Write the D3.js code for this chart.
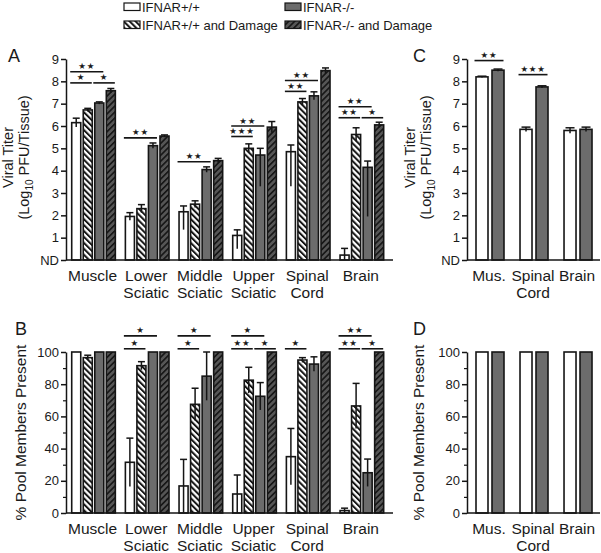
<!DOCTYPE html>
<html><head><meta charset="utf-8">
<script src="https://cdn.jsdelivr.net/npm/d3@7"></script>
<style>
body{margin:0;background:#fff}
svg{display:block}
text{font-family:"Liberation Sans",Arial,sans-serif;fill:#1a1a1a}
</style>
</head><body>
<svg id="chart" width="601" height="553"></svg>
<script>
// ---------- DATA ----------
const seriesNames = ["IFNAR+/+", "IFNAR+/+ and Damage", "IFNAR-/-", "IFNAR-/- and Damage"];
const tissuesAB = [["Muscle"], ["Lower", "Sciatic"], ["Middle", "Sciatic"], ["Upper", "Sciatic"], ["Spinal", "Cord"], ["Brain"]];
const tissuesCD = [["Mus."], ["Spinal", "Cord"], ["Brain"]];

const titerTicks = [0, 1, 2, 3, 4, 5, 6, 7, 8, 9];
const poolTicks = [0, 20, 40, 60, 80, 100];
const poolMinorTicks = [10, 30, 50, 70, 90];

// Panel A: viral titer (log10 PFU/tissue)
const titerWT      = [6.15, 1.95, 2.16, 1.10, 4.85, 0.22];
const titerWTUp    = [0.20, 0.17, 0.26, 0.25, 0.30, 0.30];
const titerWTDn    = [0.20, 0.17, 0.80, 0.60, 1.55, 0.22];
const titerWTDmg   = [6.72, 2.30, 2.50, 5.00, 7.08, 5.62];
const titerWTDmgE  = [0.07, 0.18, 0.15, 0.20, 0.15, 0.30];
const titerKO      = [7.03, 5.12, 4.05, 4.70, 7.35, 4.15];
const titerKOUp    = [0.05, 0.12, 0.12, 0.30, 0.18, 0.28];
const titerKODn    = [0.05, 0.12, 0.12, 1.40, 0.18, 2.20];
const titerKODmg   = [7.58, 5.55, 4.45, 5.95, 8.48, 6.05];
const titerKODmgE  = [0.10, 0.05, 0.10, 0.25, 0.12, 0.12];

// Panel B: % pool members present
const poolWT      = [100, 31.5, 16.8, 11.8, 35, 1.5];
const poolWTE     = [0, 15, 16.5, 11.8, 17.5, 1.5];
const poolWTDmg   = [96.5, 91.5, 67.5, 82.5, 95, 66.5];
const poolWTDmgE  = [1.5, 2.5, 10, 8, 1.5, 14];
const poolKO      = [100, 100, 85, 72.5, 92.5, 25];
const poolKOE     = [0, 0, 15, 8.5, 4.5, 8.5];
const poolKODmg   = [100, 100, 100, 100, 100, 100];
const poolKODmgE  = [0, 0, 0, 0, 0, 0];

// Panel C: viral titer, no damage
const titerCWT  = [8.20, 5.85, 5.80];
const titerCWTE = [0.03, 0.10, 0.12];
const titerCKO  = [8.50, 7.75, 5.85];
const titerCKOE = [0.05, 0.05, 0.10];

// Panel D: % pool members present, no damage
const poolDWT = [100, 100, 100];
const poolDKO = [100, 100, 100];
const zeros3 = [0, 0, 0];

// Significance: [group, fromBar, toBar, level, label]
const sigA = [[0,0,2,8.43,"★★"],[0,0,1,7.93,"★"],[0,2,3,7.93,"★"],[1,0,2,5.47,"★★"],[2,0,2,4.40,"★★"],
  [3,0,2,6.00,"★★"],[3,0,1,5.53,"★★★"],[4,0,2,8.04,"★★"],[4,0,1,7.55,"★★"],[5,0,2,6.86,"★★"],[5,0,1,6.37,"★★"],[5,2,3,6.37,"★"]];
const sigB = [[1,0,2,110,"★"],[1,0,1,102,"★"],[2,0,2,110,"★"],[2,0,1,102,"★"],[3,0,2,110,"★"],[3,0,1,102,"★★"],
  [3,2,3,102,"★"],[4,0,1,102,"★"],[5,0,2,110,"★★"],[5,0,1,102,"★★"],[5,2,3,102,"★"]];
const sigC = [[0,0,1,8.93,"★★"],[1,0,1,8.30,"★★★"]];

// ---------- DRAWING ----------
const svg = d3.select("#chart");
const INK = "#151515";
const GRAY = "#6c6c6c";
const defs = svg.append("defs");
function hatch(id, angle, bg, stripe, w) {
  const p = defs.append("pattern").attr("id", id).attr("patternUnits", "userSpaceOnUse")
    .attr("width", 4.2).attr("height", 4.2).attr("patternTransform", `rotate(${angle})`);
  p.append("rect").attr("width", 4.2).attr("height", 4.2).attr("fill", bg);
  p.append("rect").attr("width", w).attr("height", 4.2).attr("fill", stripe);
}
hatch("hw", -45, "#ffffff", INK, 2.0);
hatch("hd", 45, "#565656", INK, 1.6);
const fills = ["#ffffff", "url(#hw)", GRAY, "url(#hd)"];

function panel(c) {
  const g = svg.append("g");
  const y = d3.scaleLinear().domain([0, c.max]).range([c.yBot, c.yTop]);
  const x = d3.scaleBand().domain(d3.range(c.labels.length)).range([c.x0, c.x1])
    .paddingInner(c.pIn).paddingOuter(c.pOut).align(c.align);
  const xi = d3.scaleBand().domain(d3.range(c.series.length)).range([0, x.bandwidth()]).paddingInner(c.barPad);

  // bars
  c.series.forEach((s, si) => {
    const gg = g.append("g");
    gg.selectAll("rect").data(s.vals).join("rect")
      .attr("x", (d, i) => x(i) + xi(si))
      .attr("y", d => y(d))
      .attr("width", xi.bandwidth())
      .attr("height", d => y(0) - y(d))
      .attr("fill", s.fill).attr("stroke", INK).attr("stroke-width", 1.6);
    // error bars
    s.vals.forEach((v, i) => {
      const up = s.up[i], dn = s.dn[i];
      if (!up && !dn) return;
      const cx = x(i) + xi(si) + xi.bandwidth() / 2;
      gg.append("line").attr("x1", cx).attr("x2", cx).attr("y1", y(v + up)).attr("y2", y(Math.max(0, v - dn)))
        .attr("stroke", INK).attr("stroke-width", 1.5);
      gg.append("line").attr("x1", cx - c.cap / 2).attr("x2", cx + c.cap / 2).attr("y1", y(v + up)).attr("y2", y(v + up))
        .attr("stroke", INK).attr("stroke-width", 1.5);
    });
  });

  // axes
  const ax = g.append("g").attr("transform", `translate(${c.x0},0)`)
    .call(d3.axisLeft(y).tickValues(c.ticks).tickSize(5).tickSizeOuter(0).tickPadding(2)
      .tickFormat(d => (c.nd && d === 0) ? "ND" : d));
  ax.selectAll("path,line").attr("stroke", INK).attr("stroke-width", 1.5);
  ax.selectAll("text").attr("font-size", 13).attr("font-family", '"Liberation Sans",Arial,sans-serif').attr("fill", "#1a1a1a");
  if (c.minor) {
    const mx = g.append("g").attr("transform", `translate(${c.x0},0)`)
      .call(d3.axisLeft(y).tickValues(c.minor).tickSize(3).tickSizeOuter(0).tickFormat(""));
    mx.select("path").remove();
    mx.selectAll("line").attr("stroke", INK).attr("stroke-width", 1.2);
  }
  g.append("line").attr("x1", c.x0).attr("x2", c.x1).attr("y1", y(0)).attr("y2", y(0))
    .attr("stroke", INK).attr("stroke-width", 1.6);

  // x labels
  c.labels.forEach((lines, i) => {
    const cx = x(i) + x.bandwidth() / 2 - 1;
    const t = g.append("text").attr("text-anchor", "middle").attr("font-size", 15.5)
      .attr("x", cx).attr("y", y(0) + 20.5);
    lines.forEach((l, k) => t.append("tspan").attr("x", cx).attr("dy", k ? 17.5 : 0).text(l));
  });

  // significance
  (c.sig || []).forEach(([gi, a, b, lv, lab]) => {
    const xa = x(gi) + xi(a) - 1.5, xb = x(gi) + xi(b) + xi.bandwidth() - 0.5;
    g.append("line").attr("x1", xa).attr("x2", xb).attr("y1", y(lv)).attr("y2", y(lv))
      .attr("stroke", INK).attr("stroke-width", 1.6);
    g.append("text").attr("x", (xa + xb) / 2).attr("y", y(lv) - 2.5).attr("text-anchor", "middle")
      .attr("font-size", 8.5).attr("letter-spacing", 0.8).style("font-family", '"DejaVu Sans",sans-serif').text(lab);
  });

  // y title
  const yc = (c.yTop + c.yBot) / 2 + (c.titleDy || 0);
  c.title.forEach((line, k) => {
    const t = g.append("text").attr("transform", `translate(${c.titleX[k]},${yc}) rotate(-90)`)
      .attr("text-anchor", "middle").attr("font-size", c.titleSize);
    line.forEach(part => {
      const ts = t.append("tspan").text(part.t);
      if (part.sub) ts.attr("font-size", 10).attr("dy", 4);
      if (part.after) ts.attr("dy", -4);
    });
  });
  g.append("text").attr("x", c.letter[0]).attr("y", c.letter[1]).attr("font-size", 18).text(c.letter[2]);
}

const titerTitle = [[{t: "Viral Titer"}], [{t: "(Log"}, {t: "10", sub: true}, {t: " PFU/Tissue)", after: true}]];
const poolTitle = [[{t: "% Pool Members Present"}]];

const abLayout = {x0: 66, x1: 393, pIn: 0.187, pOut: 0.14, align: 0.38, barPad: 0.217, cap: 7};
const cdLayout = {x0: 467, x1: 600, pIn: 0.364, pOut: 0.193, align: 0.53, barPad: 0.25, cap: 9};

panel(Object.assign({}, abLayout, {
  max: 9, yTop: 59, yBot: 260, ticks: titerTicks, nd: true, labels: tissuesAB, sig: sigA,
  title: titerTitle, titleX: [13, 29], titleSize: 14.5, titleDy: -2, letter: [8, 62, "A"],
  series: [
    {vals: titerWT, up: titerWTUp, dn: titerWTDn, fill: fills[0]},
    {vals: titerWTDmg, up: titerWTDmgE, dn: titerWTDmgE, fill: fills[1]},
    {vals: titerKO, up: titerKOUp, dn: titerKODn, fill: fills[2]},
    {vals: titerKODmg, up: titerKODmgE, dn: titerKODmgE, fill: fills[3]}]
}));
panel(Object.assign({}, abLayout, {
  max: 100, yTop: 352, yBot: 513, ticks: poolTicks, minor: poolMinorTicks, labels: tissuesAB, sig: sigB,
  title: poolTitle, titleX: [26], titleSize: 15.5, titleDy: 0, letter: [15, 335, "B"],
  series: [
    {vals: poolWT, up: poolWTE, dn: poolWTE, fill: fills[0]},
    {vals: poolWTDmg, up: poolWTDmgE, dn: poolWTDmgE, fill: fills[1]},
    {vals: poolKO, up: poolKOE, dn: poolKOE, fill: fills[2]},
    {vals: poolKODmg, up: poolKODmgE, dn: poolKODmgE, fill: fills[3]}]
}));
panel(Object.assign({}, cdLayout, {
  max: 9, yTop: 59, yBot: 260, ticks: titerTicks, nd: true, labels: tissuesCD, sig: sigC,
  title: titerTitle, titleX: [415, 431], titleSize: 14.5, titleDy: -2, letter: [413, 62, "C"],
  series: [
    {vals: titerCWT, up: titerCWTE, dn: titerCWTE, fill: fills[0]},
    {vals: titerCKO, up: titerCKOE, dn: titerCKOE, fill: fills[2]}]
}));
panel(Object.assign({}, cdLayout, {
  max: 100, yTop: 352, yBot: 513, ticks: poolTicks, minor: poolMinorTicks, labels: tissuesCD,
  title: poolTitle, titleX: [424], titleSize: 15.5, titleDy: 0, letter: [413, 335, "D"],
  series: [
    {vals: poolDWT, up: zeros3, dn: zeros3, fill: fills[0]},
    {vals: poolDKO, up: zeros3, dn: zeros3, fill: fills[2]}]
}));

// legend
const legPos = [[124, 3], [124, 21], [285, 3], [285, 21]];
const leg = svg.append("g");
seriesNames.forEach((n, i) => {
  const [lx, ly] = legPos[i];
  leg.append("rect").attr("x", lx).attr("y", ly).attr("width", 16).attr("height", 7.5)
    .attr("fill", fills[i]).attr("stroke", INK).attr("stroke-width", 1.2);
  leg.append("text").attr("x", lx + 18).attr("y", ly + 8.5).attr("font-size", 13).text(n);
});
</script>
</body></html>
